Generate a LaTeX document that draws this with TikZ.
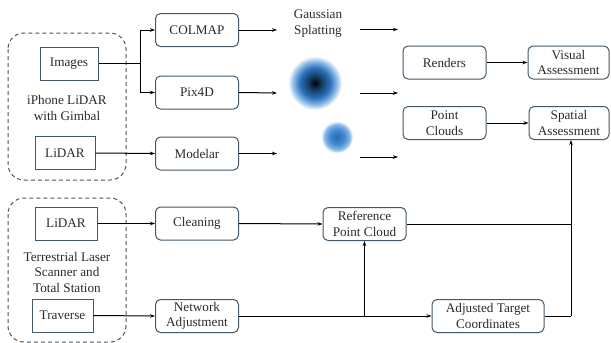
\documentclass[tikz,border=0pt]{standalone}
\usepackage{fontspec}
\setmainfont{Liberation Serif}
\newfontfamily\diagfont{Liberation Serif}
\usetikzlibrary{arrows.meta}
\definecolor{edgec}{HTML}{42586A}
\definecolor{txtc}{HTML}{2A2A2A}
\definecolor{blobblue}{HTML}{2F7FD0}
\pgfdeclareradialshading{bigblob}{\pgfpoint{0bp}{0bp}}{color(0bp)=(black); color(6bp)=(blobblue!45!black); color(14bp)=(blobblue!90!black); color(20bp)=(blobblue!55!white); color(25bp)=(white); color(50bp)=(white)}
\pgfdeclareradialshading{smallblob}{\pgfpoint{0bp}{0bp}}{color(0bp)=(blobblue!85!black); color(12bp)=(blobblue!90!white); color(20bp)=(blobblue!55!white); color(25bp)=(white); color(50bp)=(white)}
\begin{document}
\begin{tikzpicture}[x=1pt,y=-1pt,
  every node/.style={font=\diagfont\fontsize{13.2}{15.5}\selectfont, text=txtc, align=center, inner sep=0pt},
  rbox/.style={draw=edgec, line width=1pt, rounded corners=5pt, minimum width=#1, minimum height=33pt},
  rbox/.default=83pt,
  sbox/.style={draw=edgec, line width=1pt, minimum height=33pt},
  grp/.style={draw=edgec, line width=1pt, dashed, dash pattern=on 4pt off 3pt, rounded corners=16pt},
  arr/.style={line width=1pt, -{Stealth[length=5pt,width=3.5pt]}},
  ln/.style={line width=1pt}]
\useasboundingbox (0,0) rectangle (611,343);
% groups
\draw[grp] (8,33) rectangle (126,180);
\draw[grp] (8,198) rectangle (126,342);
% left inputs
\node[sbox, minimum width=58pt] (img) at (69,63.5) {Images};
\node[sbox, minimum width=60pt] (lid1) at (65,153) {LiDAR};
\node (iph) at (67,108) {iPhone LiDAR\\with Gimbal};
\node[sbox, minimum width=62pt] (lid2) at (66,223.5) {LiDAR};
\node (tls) at (67,272) {Terrestrial Laser\\Scanner and\\Total Station};
\node[sbox, minimum width=61pt] (trav) at (62.5,315.5) {Traverse};
% software
\node[rbox] (colmap) at (197,30) {COLMAP};
\node[rbox] (pix) at (197,92.5) {Pix4D};
\node[rbox] (mod) at (197,153.5) {Modelar};
\node[rbox] (clean) at (197,223.5) {Cleaning};
\node[rbox] (net) at (197,316) {Network\\Adjustment};
% gaussian
\node (gs) at (318,23.5) {Gaussian\\Splatting};
\shade[shading=bigblob] (315,83) circle (27pt);
\shade[shading=smallblob] (337,137) circle (16pt);
\coordinate (a1s) at (360,29.5); \coordinate (a1e) at (398,29.5);
\coordinate (a2s) at (360,93); \coordinate (a2e) at (398,93);
\coordinate (a3s) at (360,157); \coordinate (a3e) at (398,157);
\coordinate (c1e) at (277,30); \coordinate (c2e) at (277,93); \coordinate (c3e) at (277,153.5);
% outputs
\node[rbox] (rend) at (444.5,62.5) {Renders};
\node[rbox=81pt] (vis) at (568.5,62.5) {Visual\\Assessment};
\node[rbox] (pc) at (444.5,123) {Point\\Clouds};
\node[rbox=80pt] (spa) at (569,123) {Spatial\\Assessment};
\node[rbox] (ref) at (364.5,224) {Reference\\Point Cloud};
\node[rbox=112pt] (adj) at (488,316) {Adjusted Target\\Coordinates};
% connectors
\coordinate (br) at (140,63.5);
\draw[ln] (img.east) -- (br);
\draw[arr] (br) |- (colmap.west);
\draw[arr] (br) |- (pix.west);
\draw[arr] (lid1.east) -- (mod.west);
\draw[arr] (colmap.east) -- (c1e);
\draw[arr] (pix.east) -- (c2e);
\draw[arr] (mod.east) -- (c3e);
\draw[arr] (a1s) -- (a1e);
\draw[arr] (a2s) -- (a2e);
\draw[arr] (a3s) -- (a3e);
\draw[arr] (rend.east) -- (vis.west);
\draw[arr] (pc.east) -- (spa.west);
\draw[arr] (lid2.east) -- (clean.west);
\draw[arr] (clean.east) -- (ref.west);
\draw[arr] (trav.east) -- (net.west);
\draw[arr] (net.east) -- (adj.west);
\coordinate (nj) at (ref.south |- adj.west);
\draw[arr] (nj) -- (ref.south);
\coordinate (vr) at (571,316);
\draw[ln] (adj.east) -- (vr);
\draw[ln] (ref.east) -- (571,224);
\draw[arr] (vr) -- (spa.south -| vr);
\end{tikzpicture}
\end{document}
